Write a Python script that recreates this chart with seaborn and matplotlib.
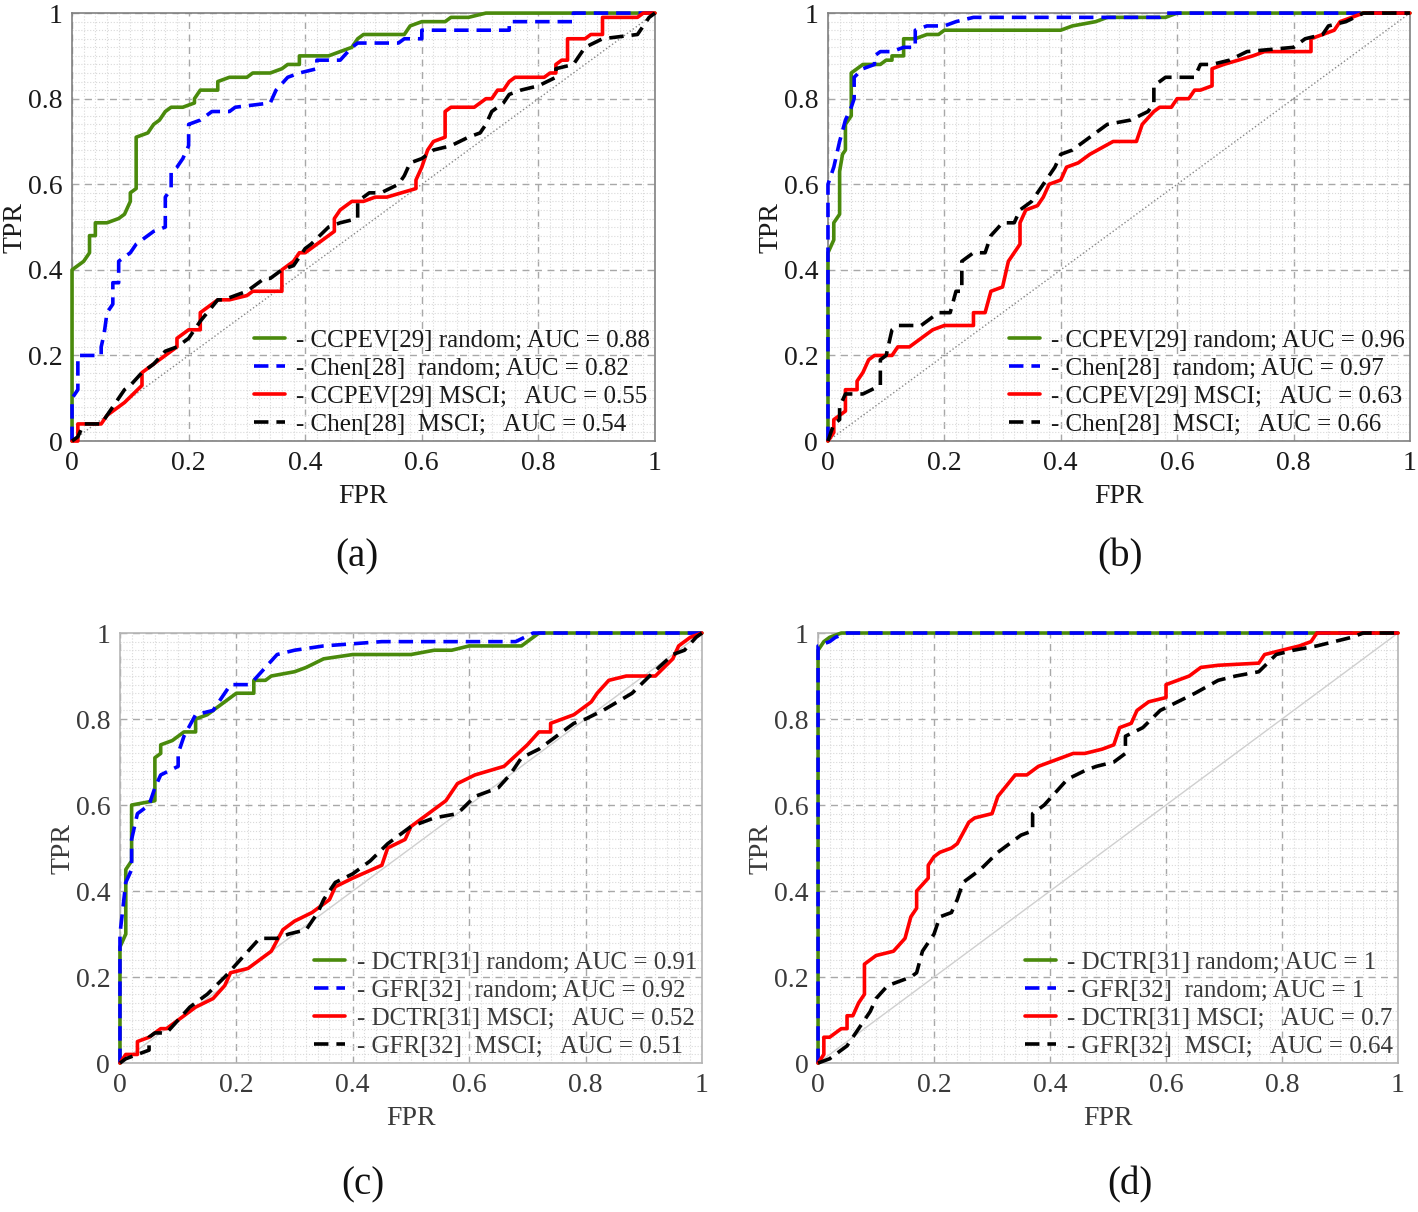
import numpy as np
import pandas as pd
import seaborn as sns
import matplotlib.pyplot as plt
from matplotlib.ticker import MultipleLocator

# ---- data (FPR, TPR) ----
ticks = [0, 0.2, 0.4, 0.6, 0.8, 1]
tick_labels = ['0', '0.2', '0.4', '0.6', '0.8', '1']

a_green = [(0, 0), (0, 0.40), (0.02, 0.42), (0.03, 0.44), (0.03, 0.48), (0.04, 0.48), (0.04, 0.51),
           (0.06, 0.51), (0.08, 0.52), (0.09, 0.53), (0.10, 0.56), (0.10, 0.58), (0.11, 0.59),
           (0.11, 0.71), (0.13, 0.72), (0.14, 0.74), (0.15, 0.75), (0.16, 0.77), (0.17, 0.78),
           (0.19, 0.78), (0.21, 0.79), (0.21, 0.80), (0.22, 0.82), (0.25, 0.82), (0.25, 0.84),
           (0.27, 0.85), (0.30, 0.85), (0.31, 0.86), (0.34, 0.86), (0.36, 0.87), (0.37, 0.88),
           (0.39, 0.88), (0.39, 0.90), (0.44, 0.90), (0.46, 0.91), (0.48, 0.92), (0.49, 0.94),
           (0.50, 0.95), (0.57, 0.95), (0.58, 0.97), (0.60, 0.98), (0.64, 0.98), (0.65, 0.99),
           (0.68, 0.99), (0.71, 1.0), (1, 1)]
a_blue = [(0, 0), (0, 0.10), (0.01, 0.12), (0.01, 0.20), (0.05, 0.20), (0.05, 0.22), (0.055, 0.25),
          (0.06, 0.30), (0.07, 0.32), (0.07, 0.37), (0.08, 0.37), (0.08, 0.42), (0.09, 0.43),
          (0.10, 0.44), (0.11, 0.46), (0.12, 0.47), (0.13, 0.48), (0.14, 0.49), (0.16, 0.50),
          (0.16, 0.57), (0.17, 0.59), (0.17, 0.63), (0.18, 0.64), (0.19, 0.66), (0.20, 0.69),
          (0.20, 0.74), (0.22, 0.75), (0.24, 0.77), (0.27, 0.77), (0.28, 0.78), (0.34, 0.79),
          (0.35, 0.82), (0.37, 0.85), (0.39, 0.86), (0.42, 0.87), (0.42, 0.89), (0.46, 0.89),
          (0.48, 0.92), (0.49, 0.93), (0.56, 0.93), (0.57, 0.94), (0.60, 0.94), (0.60, 0.96),
          (0.75, 0.96), (0.75, 0.98), (0.86, 0.98), (0.86, 1.0), (1, 1)]
a_red = [(0, 0), (0.01, 0), (0.01, 0.04), (0.05, 0.04), (0.06, 0.06), (0.07, 0.07), (0.09, 0.09),
         (0.12, 0.13), (0.12, 0.16), (0.18, 0.22), (0.18, 0.24), (0.20, 0.26), (0.22, 0.26),
         (0.22, 0.30), (0.24, 0.32), (0.25, 0.33), (0.27, 0.33), (0.30, 0.34), (0.31, 0.35),
         (0.36, 0.35), (0.36, 0.40), (0.38, 0.42), (0.39, 0.44), (0.40, 0.44), (0.45, 0.49),
         (0.45, 0.52), (0.46, 0.54), (0.48, 0.56), (0.50, 0.56), (0.52, 0.57), (0.54, 0.57),
         (0.59, 0.59), (0.59, 0.61), (0.60, 0.64), (0.61, 0.68), (0.62, 0.70), (0.64, 0.71),
         (0.64, 0.77), (0.65, 0.78), (0.69, 0.78), (0.71, 0.80), (0.72, 0.80), (0.73, 0.82),
         (0.74, 0.82), (0.75, 0.84), (0.76, 0.85), (0.81, 0.85), (0.82, 0.86), (0.83, 0.86),
         (0.83, 0.88), (0.84, 0.89), (0.85, 0.89), (0.85, 0.94), (0.88, 0.94), (0.89, 0.95),
         (0.91, 0.95), (0.91, 0.99), (0.97, 0.99), (0.98, 1.0), (1, 1)]
a_black = [(0, 0), (0.01, 0.01), (0.02, 0.04), (0.05, 0.04), (0.07, 0.08), (0.09, 0.12),
           (0.10, 0.13), (0.12, 0.16), (0.14, 0.18), (0.16, 0.21), (0.18, 0.22), (0.20, 0.24),
           (0.22, 0.28), (0.25, 0.33), (0.26, 0.33), (0.28, 0.34), (0.30, 0.35), (0.33, 0.38),
           (0.34, 0.38), (0.36, 0.40), (0.38, 0.41), (0.40, 0.45), (0.41, 0.46), (0.44, 0.50),
           (0.46, 0.51), (0.49, 0.52), (0.49, 0.56), (0.51, 0.58), (0.53, 0.58), (0.56, 0.60),
           (0.57, 0.62), (0.58, 0.65), (0.60, 0.66), (0.62, 0.68), (0.65, 0.69), (0.68, 0.71),
           (0.70, 0.72), (0.71, 0.74), (0.72, 0.77), (0.74, 0.79), (0.75, 0.81), (0.77, 0.82),
           (0.80, 0.83), (0.83, 0.85), (0.83, 0.87), (0.86, 0.88), (0.87, 0.90), (0.88, 0.92),
           (0.91, 0.94), (0.97, 0.95), (0.99, 0.99), (1, 1)]

b_green = [(0, 0), (0, 0.44), (0.01, 0.47), (0.01, 0.51), (0.015, 0.52), (0.02, 0.53), (0.02, 0.63),
           (0.025, 0.67), (0.03, 0.68), (0.03, 0.74), (0.04, 0.76), (0.04, 0.86), (0.05, 0.87),
           (0.06, 0.88), (0.09, 0.88), (0.10, 0.89), (0.11, 0.89), (0.11, 0.90), (0.13, 0.90),
           (0.13, 0.94), (0.15, 0.94), (0.17, 0.95), (0.19, 0.95), (0.20, 0.96), (0.40, 0.96),
           (0.42, 0.97), (0.44, 0.975), (0.46, 0.98), (0.48, 0.99), (0.58, 0.99), (0.60, 1.0), (1, 1)]
b_blue = [(0, 0), (0, 0.60), (0.01, 0.64), (0.02, 0.70), (0.03, 0.75), (0.04, 0.78), (0.045, 0.80),
          (0.045, 0.85), (0.06, 0.87), (0.08, 0.88), (0.08, 0.90), (0.09, 0.91), (0.11, 0.91),
          (0.13, 0.92), (0.15, 0.92), (0.15, 0.96), (0.17, 0.97), (0.20, 0.97), (0.22, 0.98),
          (0.25, 0.99), (0.57, 0.99), (0.58, 1.0), (1, 1)]
b_red = [(0, 0), (0.01, 0.02), (0.01, 0.05), (0.02, 0.06), (0.03, 0.07), (0.03, 0.12), (0.05, 0.12),
         (0.05, 0.14), (0.06, 0.16), (0.07, 0.19), (0.08, 0.20), (0.11, 0.20), (0.12, 0.22),
         (0.14, 0.22), (0.15, 0.23), (0.17, 0.25), (0.18, 0.26), (0.20, 0.27), (0.25, 0.27),
         (0.25, 0.30), (0.27, 0.30), (0.28, 0.35), (0.30, 0.36), (0.31, 0.42), (0.33, 0.46),
         (0.33, 0.51), (0.34, 0.54), (0.36, 0.55), (0.37, 0.57), (0.38, 0.60), (0.40, 0.61),
         (0.41, 0.64), (0.43, 0.65), (0.45, 0.67), (0.49, 0.70), (0.53, 0.70), (0.54, 0.74),
         (0.56, 0.77), (0.57, 0.78), (0.59, 0.78), (0.60, 0.80), (0.62, 0.80), (0.63, 0.82),
         (0.64, 0.82), (0.66, 0.83), (0.66, 0.87), (0.68, 0.88), (0.73, 0.90), (0.75, 0.91),
         (0.83, 0.91), (0.83, 0.94), (0.85, 0.95), (0.87, 0.96), (0.88, 0.98), (0.92, 1.0), (1, 1)]
b_black = [(0, 0), (0.01, 0.04), (0.02, 0.05), (0.02, 0.08), (0.03, 0.11), (0.06, 0.11),
           (0.09, 0.13), (0.09, 0.19), (0.10, 0.20), (0.11, 0.26), (0.12, 0.27), (0.16, 0.27),
           (0.19, 0.30), (0.21, 0.30), (0.22, 0.35), (0.23, 0.35), (0.23, 0.42), (0.25, 0.44),
           (0.27, 0.44), (0.28, 0.48), (0.30, 0.51), (0.32, 0.51), (0.33, 0.54), (0.35, 0.56),
           (0.37, 0.60), (0.39, 0.64), (0.40, 0.67), (0.42, 0.68), (0.45, 0.71), (0.48, 0.74),
           (0.52, 0.75), (0.55, 0.77), (0.56, 0.79), (0.56, 0.83), (0.58, 0.85), (0.63, 0.85),
           (0.64, 0.88), (0.66, 0.88), (0.69, 0.89), (0.72, 0.91), (0.80, 0.92), (0.82, 0.94),
           (0.85, 0.95), (0.86, 0.97), (0.89, 0.98), (0.92, 1.0), (1, 1)]

c_green = [(0, 0), (0, 0.27), (0.01, 0.30), (0.01, 0.45), (0.02, 0.47), (0.02, 0.60), (0.06, 0.61),
           (0.06, 0.71), (0.07, 0.72), (0.07, 0.74), (0.09, 0.75), (0.11, 0.77), (0.13, 0.77),
           (0.13, 0.80), (0.15, 0.81), (0.18, 0.84), (0.20, 0.86), (0.23, 0.86), (0.23, 0.89),
           (0.25, 0.89), (0.26, 0.90), (0.30, 0.91), (0.32, 0.92), (0.35, 0.94), (0.40, 0.95),
           (0.50, 0.95), (0.54, 0.96), (0.57, 0.96), (0.60, 0.97), (0.69, 0.97), (0.72, 1.0), (1, 1)]
c_blue = [(0, 0), (0, 0.30), (0.01, 0.42), (0.02, 0.45), (0.02, 0.52), (0.03, 0.58), (0.05, 0.60),
          (0.06, 0.64), (0.07, 0.67), (0.10, 0.69), (0.10, 0.72), (0.11, 0.76), (0.13, 0.81),
          (0.16, 0.82), (0.18, 0.86), (0.19, 0.88), (0.22, 0.88), (0.23, 0.89), (0.25, 0.92),
          (0.27, 0.95), (0.30, 0.96), (0.35, 0.97), (0.45, 0.98), (0.68, 0.98), (0.71, 1.0), (1, 1)]
c_red = [(0, 0), (0.01, 0.02), (0.03, 0.02), (0.03, 0.05), (0.05, 0.06), (0.07, 0.08), (0.08, 0.08),
         (0.10, 0.10), (0.13, 0.13), (0.16, 0.15), (0.18, 0.18), (0.19, 0.21), (0.22, 0.22),
         (0.24, 0.24), (0.26, 0.26), (0.28, 0.31), (0.30, 0.33), (0.33, 0.35), (0.36, 0.38),
         (0.37, 0.41), (0.40, 0.43), (0.45, 0.46), (0.46, 0.50), (0.49, 0.52), (0.50, 0.55),
         (0.53, 0.58), (0.56, 0.61), (0.58, 0.65), (0.61, 0.67), (0.66, 0.69), (0.70, 0.74),
         (0.72, 0.77), (0.74, 0.77), (0.74, 0.79), (0.78, 0.81), (0.81, 0.84), (0.82, 0.86),
         (0.84, 0.89), (0.87, 0.90), (0.92, 0.90), (0.95, 0.94), (0.96, 0.97), (0.98, 0.99), (1, 1)]
c_black = [(0, 0), (0.01, 0.01), (0.05, 0.03), (0.05, 0.06), (0.06, 0.07), (0.08, 0.07),
           (0.10, 0.10), (0.12, 0.13), (0.15, 0.16), (0.18, 0.20), (0.20, 0.23), (0.22, 0.26),
           (0.24, 0.29), (0.27, 0.29), (0.29, 0.30), (0.32, 0.31), (0.34, 0.35), (0.35, 0.38),
           (0.37, 0.42), (0.40, 0.44), (0.43, 0.47), (0.46, 0.51), (0.48, 0.53), (0.50, 0.55),
           (0.54, 0.57), (0.58, 0.58), (0.61, 0.62), (0.65, 0.64), (0.67, 0.67), (0.69, 0.71),
           (0.72, 0.73), (0.75, 0.76), (0.78, 0.79), (0.80, 0.80), (0.83, 0.82), (0.88, 0.86),
           (0.91, 0.90), (0.95, 0.95), (0.97, 0.96), (0.99, 0.99), (1, 1)]

d_green = [(0, 0), (0, 0.96), (0.01, 0.98), (0.02, 0.99), (0.04, 1.0), (1, 1)]
d_blue = [(0, 0), (0, 0.97), (0.02, 0.98), (0.03, 0.99), (0.05, 1.0), (1, 1)]
d_red = [(0, 0), (0.01, 0.02), (0.01, 0.06), (0.02, 0.06), (0.04, 0.08), (0.05, 0.08), (0.05, 0.11),
         (0.06, 0.11), (0.07, 0.14), (0.08, 0.16), (0.08, 0.23), (0.10, 0.25), (0.13, 0.26),
         (0.15, 0.29), (0.16, 0.34), (0.17, 0.36), (0.17, 0.40), (0.19, 0.43), (0.19, 0.46),
         (0.20, 0.48), (0.21, 0.49), (0.23, 0.50), (0.24, 0.51), (0.26, 0.56), (0.27, 0.57),
         (0.30, 0.58), (0.31, 0.62), (0.34, 0.67), (0.36, 0.67), (0.38, 0.69), (0.42, 0.71),
         (0.44, 0.72), (0.46, 0.72), (0.49, 0.73), (0.51, 0.74), (0.52, 0.78), (0.54, 0.79),
         (0.55, 0.82), (0.57, 0.84), (0.60, 0.85), (0.60, 0.88), (0.62, 0.89), (0.64, 0.90),
         (0.66, 0.92), (0.69, 0.925), (0.76, 0.93), (0.77, 0.95), (0.80, 0.96), (0.83, 0.97),
         (0.85, 0.98), (0.86, 1.0), (1, 1)]
d_black = [(0, 0), (0.02, 0.01), (0.04, 0.03), (0.05, 0.04), (0.07, 0.08), (0.09, 0.12),
           (0.10, 0.15), (0.12, 0.18), (0.14, 0.19), (0.16, 0.20), (0.17, 0.21), (0.18, 0.26),
           (0.20, 0.30), (0.21, 0.34), (0.23, 0.35), (0.24, 0.38), (0.25, 0.42), (0.28, 0.45),
           (0.31, 0.49), (0.33, 0.51), (0.35, 0.53), (0.37, 0.54), (0.37, 0.58), (0.39, 0.60),
           (0.41, 0.63), (0.43, 0.66), (0.46, 0.68), (0.48, 0.69), (0.51, 0.70), (0.53, 0.72),
           (0.53, 0.76), (0.56, 0.78), (0.59, 0.82), (0.62, 0.84), (0.65, 0.86), (0.69, 0.89),
           (0.72, 0.90), (0.76, 0.91), (0.79, 0.95), (0.82, 0.96), (0.86, 0.97), (0.89, 0.98),
           (0.92, 0.99), (0.94, 1.0), (1, 1)]

a_labels = ['- CCPEV[29] random; AUC = 0.88', '- Chen[28]  random; AUC = 0.82',
            '- CCPEV[29] MSCI;   AUC = 0.55', '- Chen[28]  MSCI;   AUC = 0.54']
b_labels = ['- CCPEV[29] random; AUC = 0.96', '- Chen[28]  random; AUC = 0.97',
            '- CCPEV[29] MSCI;   AUC = 0.63', '- Chen[28]  MSCI;   AUC = 0.66']
c_labels = ['- DCTR[31] random; AUC = 0.91', '- GFR[32]  random; AUC = 0.92',
            '- DCTR[31] MSCI;   AUC = 0.52', '- GFR[32]  MSCI;   AUC = 0.51']
d_labels = ['- DCTR[31] random; AUC = 1', '- GFR[32]  random; AUC = 1',
            '- DCTR[31] MSCI;   AUC = 0.7', '- GFR[32]  MSCI;   AUC = 0.64']

panel_names = ['(a)', '(b)', '(c)', '(d)']

colors = ['#4a8a0c', '#0000ff', '#ff0000', '#000000']
styles = ['-', '--', '-', '--']

sns.set_theme(style='white')
plt.rcParams['font.family'] = ['Liberation Serif', 'DejaVu Serif']

fig = plt.figure(figsize=(14.18, 12.12), dpi=100)

# axes boxes in figure fractions
boxes = [[0.0508, 0.6361, 0.4111, 0.3531],
         [0.5839, 0.6361, 0.4104, 0.3531],
         [0.0846, 0.1229, 0.4104, 0.3548],
         [0.5769, 0.1229, 0.4090, 0.3548]]
letter_pos = [(357 / 1418, 1 - 557 / 1212), (1120 / 1418, 1 - 557 / 1212),
              (363 / 1418, 1 - 1185 / 1212), (1130 / 1418, 1 - 1185 / 1212)]

panels = [[a_green, a_blue, a_red, a_black],
          [b_green, b_blue, b_red, b_black],
          [c_green, c_blue, c_red, c_black],
          [d_green, d_blue, d_red, d_black]]
labels = [a_labels, b_labels, c_labels, d_labels]

for i in range(4):
    ax = fig.add_axes(boxes[i])
    lower = i >= 2
    txt_col = '#3a3a3a' if lower else '#1a1a1a'
    frame_col = '#b5b5b5' if lower else '#808080'

    ax.xaxis.set_minor_locator(MultipleLocator(0.02))
    ax.yaxis.set_minor_locator(MultipleLocator(0.02))
    ax.grid(which='minor', color='#d9d9d9', linestyle=':', linewidth=0.8)
    ax.grid(which='major', color='#a8a8a8', linestyle=(0, (5, 4)), linewidth=1.0)
    ax.set_axisbelow(True)

    # chance line
    diag = pd.DataFrame({'FPR': [0, 1], 'TPR': [0, 1]})
    if lower:
        sns.lineplot(data=diag, x='FPR', y='TPR', ax=ax, color='#cfcfcf', linewidth=1.0)
    else:
        sns.lineplot(data=diag, x='FPR', y='TPR', ax=ax, color='#888888',
                     linestyle=':', linewidth=1.0)

    handles = []
    for j, pts in enumerate(panels[i]):
        df = pd.DataFrame(pts, columns=['FPR', 'TPR'])
        kw = dict(color=colors[j], linewidth=2.6, clip_on=False, zorder=3 + j)
        if styles[j] == '--':
            kw['dashes'] = (4, 2.2)
        else:
            kw['linestyle'] = '-'
        sns.lineplot(data=df, x='FPR', y='TPR', ax=ax, sort=False, estimator=None, **kw)
        handles.append(ax.lines[-1])

    ax.set_xlim(0, 1)
    ax.set_ylim(0, 1)
    ax.set_xticks(ticks)
    ax.set_yticks(ticks)
    ax.set_xticklabels(tick_labels)
    ax.set_yticklabels(tick_labels)
    ax.tick_params(axis='both', which='both', length=0, labelsize=20, pad=7, labelcolor=txt_col)
    ax.set_xlabel('FPR', fontsize=20, color=txt_col, labelpad=6)
    ax.set_ylabel('TPR', fontsize=20, color=txt_col, labelpad=0)
    for sp in ax.spines.values():
        sp.set_color(frame_col)
        sp.set_linewidth(1.2)

    leg = ax.legend(handles, labels[i], loc='lower right', frameon=False, fontsize=18,
                    handlelength=1.25, handletextpad=0.45, labelspacing=0.22,
                    borderaxespad=0.05, borderpad=0.15)
    for t in leg.get_texts():
        t.set_color(txt_col)

    fig.text(letter_pos[i][0], letter_pos[i][1], panel_names[i], fontsize=28,
             ha='center', va='center', color='#111111')

fig.savefig('out.png', dpi=100)
